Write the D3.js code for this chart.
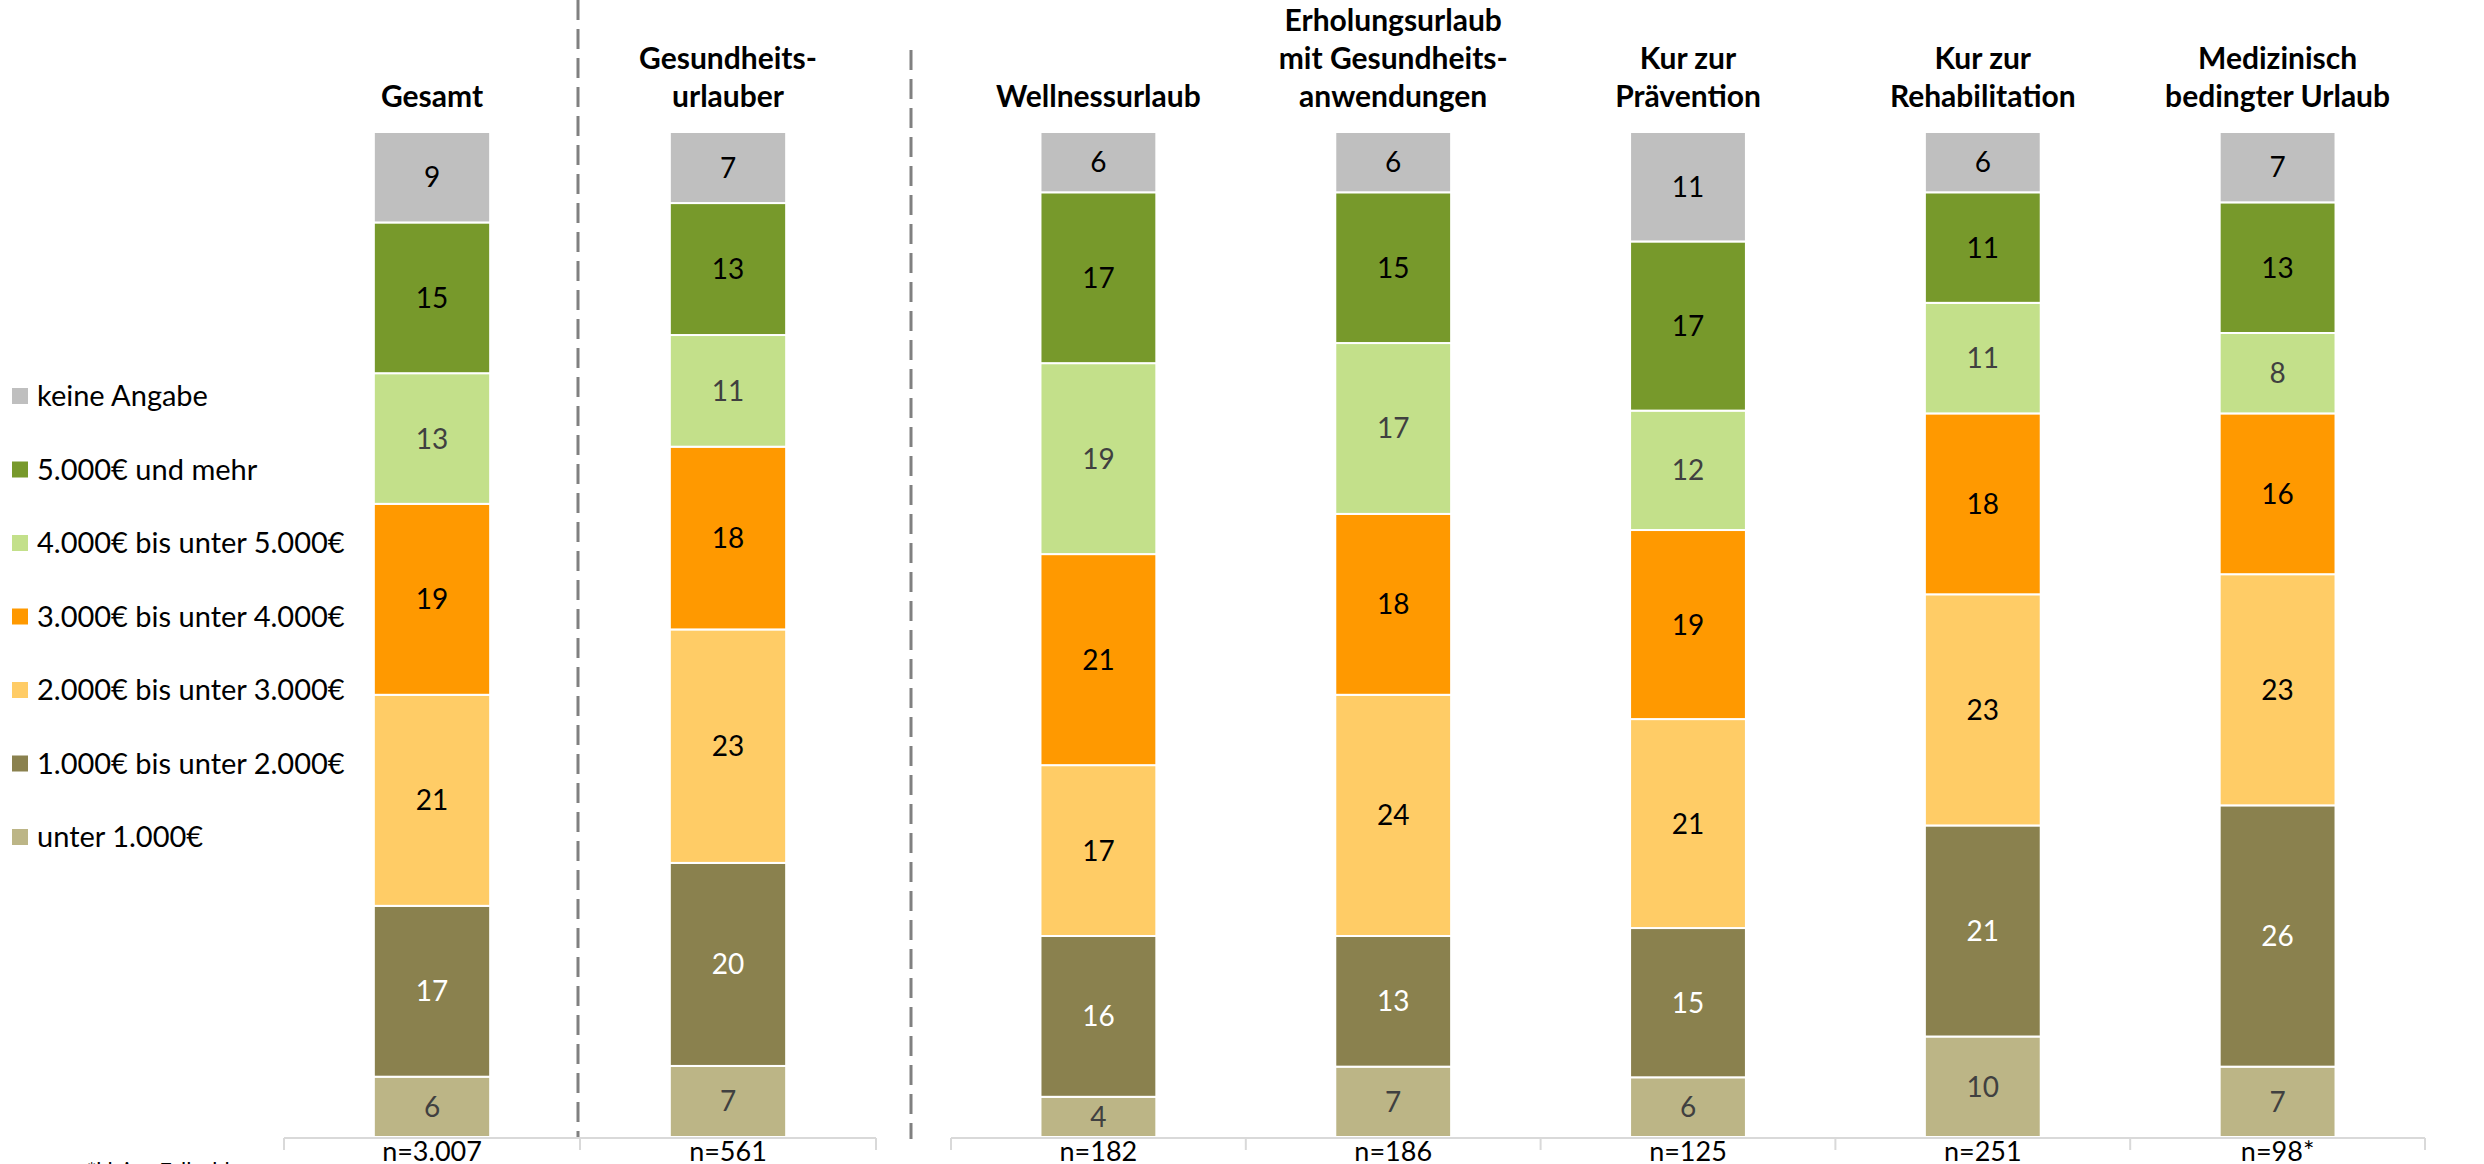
<!DOCTYPE html>
<html>
<head>
<meta charset="utf-8">
<script src="https://d3js.org/d3.v7.min.js"></script>
<style>
  body { margin: 0; background: #fff; }
  svg { display: block; font-family: Lato, "Noto Sans", sans-serif; }
</style>
</head>
<body>
<div id="chart"></div>
<script>
// income groups, bottom to top of each column
var keys = ["unter", "k1", "k2", "k3", "k4", "k5", "ka"];
var legendLabels = ["unter 1.000€", "1.000€ bis unter 2.000€", "2.000€ bis unter 3.000€",
    "3.000€ bis unter 4.000€", "4.000€ bis unter 5.000€", "5.000€ und mehr", "keine Angabe"];
var colors = ["#BCB586", "#8A814E", "#FFCC66", "#FF9900", "#C3E08A", "#77992B", "#BFBFBF"];
var labelColors = ["#404040", "#ffffff", "#000000", "#000000", "#404040", "#000000", "#000000"];

// left block
var leftCats = ["Gesamt", "Gesundheitsurlauber"];
var leftTitles = [["Gesamt"], ["Gesundheits-", "urlauber"]];
var leftN = ["n=3.007", "n=561"];
var leftValues = [
    [6, 17, 21, 19, 13, 15, 9],
    [7, 20, 23, 18, 11, 13, 7]
];

// right block
var rightCats = ["Wellnessurlaub", "Erholungsurlaub", "KurPraevention", "KurReha", "Medizinisch"];
var rightTitles = [["Wellnessurlaub"], ["Erholungsurlaub", "mit Gesundheits-", "anwendungen"],
    ["Kur zur", "Prävention"], ["Kur zur", "Rehabilitation"], ["Medizinisch", "bedingter Urlaub"]];
var rightN = ["n=182", "n=186", "n=125", "n=251", "n=98*"];
var rightValues = [
    [4, 16, 17, 21, 19, 17, 6],
    [7, 13, 24, 18, 17, 15, 6],
    [6, 15, 21, 19, 12, 17, 11],
    [10, 21, 23, 18, 11, 11, 6],
    [7, 26, 23, 16, 8, 13, 7]
];

var svgWidth = 2484;
var svgHeight = 1164;

var svg = d3.select("#chart").append("svg")
    .attr("width", svgWidth)
    .attr("height", svgHeight);

var y = d3.scaleLinear().domain([0, 1]).range([1137, 132]);

var stack = d3.stack()
    .keys(keys.map((k, i) => i))
    .offset(d3.stackOffsetExpand);

function drawBlock(cats, titles, nLabels, values, x0, x1) {
    var x = d3.scaleBand()
        .domain(cats)
        .range([x0, x1])
        .paddingInner(0.607)
        .paddingOuter(0.3035);

    var rows = values.map((v, i) => Object.assign({ cat: cats[i] }, v));
    var series = stack(rows);

    var g = svg.append("g");

    series.forEach(function(s, si) {
        var grp = g.append("g");
        grp.selectAll("rect")
            .data(s)
            .enter()
            .append("rect")
            .attr("x", d => x(d.data.cat))
            .attr("width", x.bandwidth())
            .attr("y", d => y(d[1]))
            .attr("height", d => y(d[0]) - y(d[1]))
            .attr("fill", colors[si])
            .attr("stroke", "#fff")
            .attr("stroke-width", 2);

        grp.selectAll("text")
            .data(s)
            .enter()
            .append("text")
            .attr("x", d => x(d.data.cat) + x.bandwidth() / 2)
            .attr("y", d => (y(d[0]) + y(d[1])) / 2 + 10)
            .attr("text-anchor", "middle")
            .attr("font-size", "28px")
            .attr("fill", labelColors[si])
            .text(d => d.data[si]);
    });

    // x axis with n labels
    var axis = d3.axisBottom(x)
        .tickFormat((d, i) => nLabels[i])
        .tickSize(0)
        .tickPadding(4);
    var ax = svg.append("g")
        .attr("transform", "translate(0,1138)")
        .call(axis);
    ax.select(".domain").remove();
    ax.append("line")
        .attr("x1", x0).attr("x2", x1)
        .attr("stroke", "#D9D9D9").attr("stroke-width", 2);
    // category separators
    var bounds = [x0].concat(cats.map((c, i) => x0 + x.step() * (i + 1)));
    ax.selectAll(".sep")
        .data(bounds)
        .enter()
        .append("line")
        .attr("class", "sep")
        .attr("x1", d => d).attr("x2", d => d)
        .attr("y1", 0).attr("y2", 12)
        .attr("stroke", "#D9D9D9").attr("stroke-width", 2);
    ax.selectAll(".tick text")
        .attr("font-family", "Lato, sans-serif")
        .attr("font-size", "27px")
        .attr("fill", "#000")
        .attr("dy", "0.72em");

    // column titles
    cats.forEach(function(c, i) {
        var lines = titles[i];
        var t = svg.append("text")
            .attr("text-anchor", "middle")
            .attr("font-size", "30px")
            .attr("font-weight", "bold")
            .attr("fill", "#000");
        lines.forEach(function(line, li) {
            t.append("tspan")
                .attr("x", x(c) + x.bandwidth() / 2)
                .attr("y", 107 - (lines.length - 1 - li) * 38)
                .text(line);
        });
    });
}

drawBlock(leftCats, leftTitles, leftN, leftValues, 284, 876);
drawBlock(rightCats, rightTitles, rightN, rightValues, 951, 2425);

// dashed separators
svg.append("line")
    .attr("x1", 578).attr("x2", 578)
    .attr("y1", 0).attr("y2", 1137)
    .attr("stroke", "#808080").attr("stroke-width", 3)
    .attr("stroke-dasharray", "20,9");
svg.append("line")
    .attr("x1", 911).attr("x2", 911)
    .attr("y1", 50).attr("y2", 1139)
    .attr("stroke", "#808080").attr("stroke-width", 3)
    .attr("stroke-dasharray", "20,9");

// legend (top to bottom reversed order)
var legendOrder = d3.range(keys.length).reverse();
var legend = svg.append("g").selectAll("g")
    .data(legendOrder)
    .enter()
    .append("g")
    .attr("transform", (d, i) => `translate(12, ${396 + i * 73.5})`);
legend.append("rect")
    .attr("x", 0).attr("y", -8)
    .attr("width", 16).attr("height", 16)
    .attr("fill", d => colors[d]);
legend.append("text")
    .attr("x", 25)
    .attr("y", 10)
    .attr("font-size", "29px")
    .attr("fill", "#000")
    .text(d => legendLabels[d]);

// footnote (mostly cut off at the bottom)
svg.append("text")
    .attr("x", 87)
    .attr("y", 1178)
    .attr("font-size", "22px")
    .attr("fill", "#000")
    .text("*kleine Fallzahl");
</script>
</body>
</html>
